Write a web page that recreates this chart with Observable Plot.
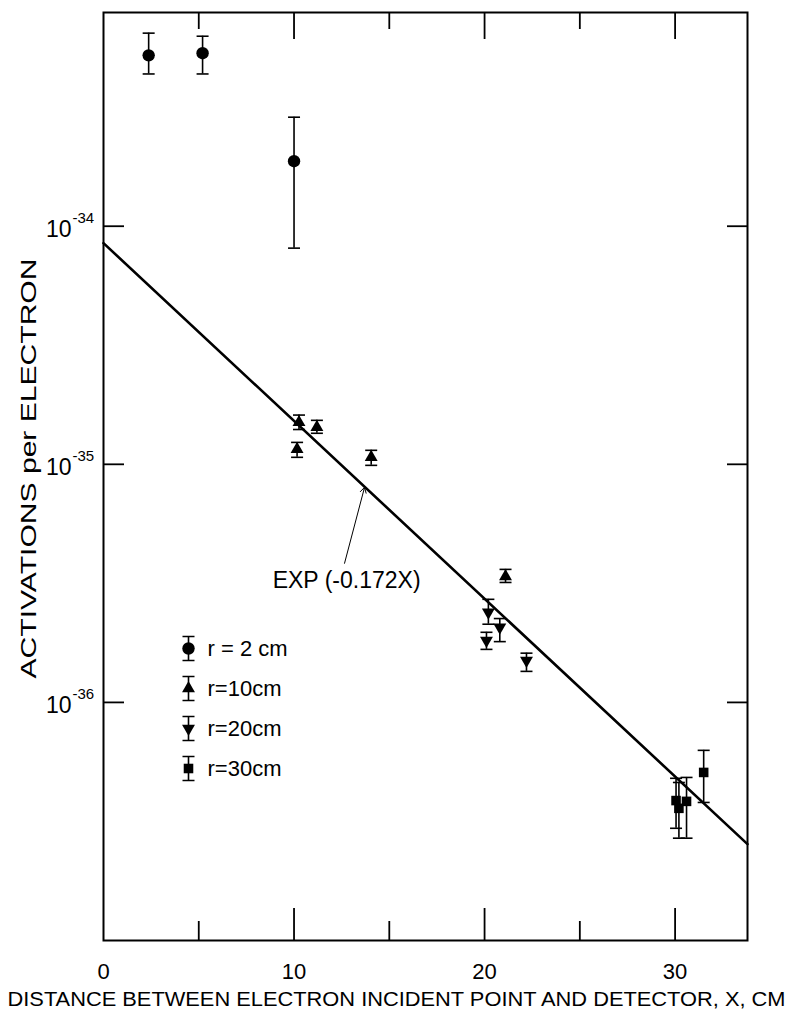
<!DOCTYPE html>
<html><head><meta charset="utf-8">
<script src="https://cdn.jsdelivr.net/npm/d3@7"></script>
<script src="https://cdn.jsdelivr.net/npm/@observablehq/plot@0.6"></script>
<style>body{margin:0;background:#fff;} #chart{width:791px;height:1017px;}</style>
</head><body><div id="chart"></div>
<script>
// ---- data ----
// r = 2 cm (circles)
const r2X  = [2.37, 5.2, 10.0];
const r2Y  = [5.22e-34, 5.33e-34, 1.875e-34];
const r2Lo = [4.36e-34, 4.36e-34, 8.09e-35];
const r2Hi = [6.47e-34, 6.28e-34, 2.87e-34];
// r = 10 cm (up triangles)
const r10X  = [10.26, 11.2, 10.16, 14.05, 21.1];
const r10Y  = [1.50e-35, 1.43e-35, 1.156e-35, 1.07e-35, 3.38e-36];
const r10Lo = [1.40e-35, 1.35e-35, 1.07e-35, 9.9e-36, 3.19e-36];
const r10Hi = [1.61e-35, 1.53e-35, 1.236e-35, 1.145e-35, 3.62e-36];
// r = 20 cm (down triangles)
const r20X  = [20.2, 20.1, 20.8, 22.2];
const r20Y  = [2.39e-36, 1.82e-36, 2.07e-36, 1.50e-36];
const r20Lo = [2.13e-36, 1.67e-36, 1.80e-36, 1.35e-36];
const r20Hi = [2.71e-36, 1.97e-36, 2.25e-36, 1.61e-36];
// r = 30 cm (squares)
const r30X  = [30.05, 30.2, 30.6, 31.5];
const r30Y  = [3.87e-37, 3.59e-37, 3.84e-37, 5.08e-37];
const r30Lo = [2.96e-37, 2.69e-37, 2.69e-37, 3.80e-37];
const r30Hi = [4.80e-37, 4.61e-37, 4.84e-37, 6.29e-37];

const seriesLabels = ["r = 2 cm", "r=10cm", "r=20cm", "r=30cm"];

// fitted line EXP(-0.172X), end points
const fitX = [0, 33.8];
const fitY = [8.49e-35, 2.54e-37];
const fitLabel = "EXP (-0.172X)";
const annTail = [12.65, 3.84e-36];
const annHead = [13.7, 8.0e-36];
const annText = [12.76, 3.25e-36];

// axes
const xTickValues = [0, 10, 20, 30];
const xTickLabels = ["0", "10", "20", "30"];
const xMajorTicks = [10, 20, 30];
const xMinorTicks = [5, 15, 25];
const yTickValues = [1e-34, 1e-35, 1e-36];
const yTickExps = ["-34", "-35", "-36"];
const xTitle = "DISTANCE BETWEEN ELECTRON INCIDENT POINT AND DETECTOR, X, CM";
const yTitle = "ACTIVATIONS per ELECTRON";

// ---- build table ----
const rows = (X, Y, Lo, Hi, s) => X.map((x, i) => ({x, y: Y[i], lo: Lo[i], hi: Hi[i], s}));
const series = [
  rows(r2X, r2Y, r2Lo, r2Hi, 0),
  rows(r10X, r10Y, r10Lo, r10Hi, 1),
  rows(r20X, r20Y, r20Lo, r20Hi, 2),
  rows(r30X, r30Y, r30Lo, r30Hi, 3)
];
const all = series.flat();
const fit = fitX.map((x, i) => ({x, y: fitY[i]}));

// layout
const W = 791, H = 1017, mT = 12, mR = 44, mB = 77, mL = 103;
const frameW = W - mL - mR, frameH = H - mT - mB;

// ---- custom symbols ----
const seg = (pts) => ({draw(ctx) { for (const [a, b, c, d] of pts) { ctx.moveTo(a, b); ctx.lineTo(c, d); } }});
const capSym = seg([[-6, 0, 6, 0]]);
const legendBar = seg([[0, -12, 0, 12], [-6, -12, 6, -12], [-6, 12, 6, 12]]);

const markerStyle = [
  {symbol: "circle", r: 6.2},
  {symbol: "triangle", r: 4.8},
  {symbol: "triangle", r: 4.8, rotate: 180},
  {symbol: "square", r: 5.4}
];

const tk = {stroke: "black", strokeWidth: 1.8};
const marks = [
  // inward ticks
  Plot.tickX(xMajorTicks, {x: d => d, insetTop: frameH - 32, ...tk}),
  Plot.tickX(xMinorTicks, {x: d => d, insetTop: frameH - 19, ...tk}),
  Plot.tickX(xMajorTicks, {x: d => d, insetBottom: frameH - 27, ...tk}),
  Plot.tickX(xMinorTicks, {x: d => d, insetBottom: frameH - 17, ...tk}),
  Plot.tickY(yTickValues, {y: d => d, insetRight: frameW - 21, ...tk}),
  Plot.tickY(yTickValues, {y: d => d, insetLeft: frameW - 20, ...tk}),
  Plot.frame({stroke: "black", strokeWidth: 2}),
  // tick labels
  Plot.text(xTickValues, {x: d => d, text: (d, i) => xTickLabels[i], frameAnchor: "bottom", dy: 38, fontSize: 22}),
  Plot.text(yTickValues, {y: d => d, text: () => "10", frameAnchor: "left", dx: -32, dy: 3, textAnchor: "end", fontSize: 23}),
  Plot.text(yTickValues, {y: d => d, text: (d, i) => yTickExps[i], frameAnchor: "left", dx: -31, dy: -8, textAnchor: "start", fontSize: 15}),
  // axis titles
  Plot.text([xTitle], {frameAnchor: "bottom-left", dx: -96, dy: 65, textAnchor: "start", fontSize: 20.5}),
  Plot.text([yTitle], {frameAnchor: "left", dx: -75, dy: 202, rotate: -90, textAnchor: "start", fontSize: 22}),
  // fit line + annotation
  Plot.line(fit, {x: "x", y: "y", stroke: "black", strokeWidth: 2.6}),
  Plot.arrow([0], {x1: () => annTail[0], y1: () => annTail[1], x2: () => annHead[0], y2: () => annHead[1], stroke: "black", strokeWidth: 1, headLength: 9}),
  Plot.text([fitLabel], {x: () => annText[0], y: () => annText[1], fontSize: 23}),
  // error bars
  Plot.ruleX(all, {x: "x", y1: "lo", y2: "hi", stroke: "black", strokeWidth: 1.6}),
  Plot.dot(all, {x: "x", y: "lo", symbol: capSym, stroke: "black", strokeWidth: 1.6, fill: "none"}),
  Plot.dot(all, {x: "x", y: "hi", symbol: capSym, stroke: "black", strokeWidth: 1.6, fill: "none"})
];

// markers
series.forEach((data, k) => {
  marks.push(Plot.dot(data, {x: "x", y: "y", ...markerStyle[k], fill: "black", stroke: "none"}));
});

// legend (inside the frame)
seriesLabels.forEach((label, k) => {
  marks.push(Plot.dot([label], {frameAnchor: "top-left", dx: 85, dy: 636 + 40 * k, symbol: legendBar, stroke: "black", strokeWidth: 1.6, fill: "none"}));
  marks.push(Plot.dot([label], {frameAnchor: "top-left", dx: 85, dy: 636 + 40 * k, ...markerStyle[k], fill: "black", stroke: "none"}));
  marks.push(Plot.text([label], {frameAnchor: "top-left", dx: 104, dy: 636 + 40 * k, lineAnchor: "middle", text: d => d, textAnchor: "start", fontSize: 22}));
});

const chart = Plot.plot({
  width: W,
  height: H,
  marginTop: mT,
  marginRight: mR,
  marginBottom: mB,
  marginLeft: mL,
  x: {domain: [0, 33.8], axis: null},
  y: {type: "log", domain: [1e-37, 7.9e-34], axis: null},
  style: {fontFamily: "'Liberation Sans', Arial, sans-serif", background: "white", color: "black", overflow: "visible"},
  marks
});
document.getElementById("chart").appendChild(chart);

// stretch long titles to the reference widths
d3.select(chart).selectAll("text").filter(function() { return this.textContent === xTitle; })
  .attr("textLength", 778).attr("lengthAdjust", "spacingAndGlyphs");
d3.select(chart).selectAll("text").filter(function() { return this.textContent === yTitle; })
  .attr("textLength", 420).attr("lengthAdjust", "spacingAndGlyphs");
</script>
</body></html>
